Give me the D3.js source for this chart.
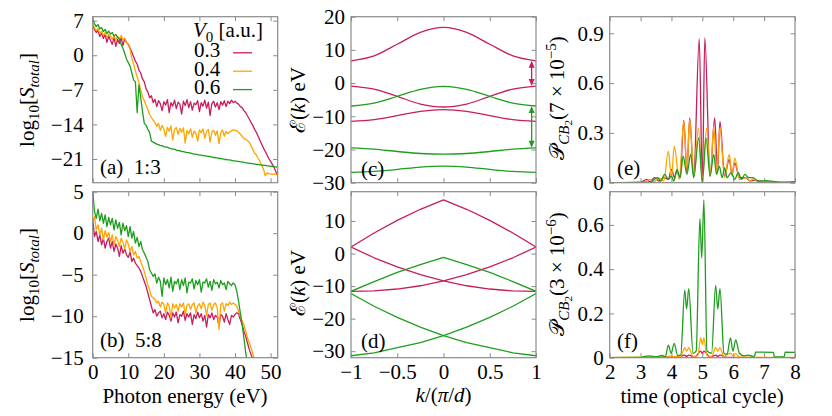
<!DOCTYPE html>
<html>
<head>
<meta charset="utf-8">
<script src="https://cdn.jsdelivr.net/npm/d3@7"></script>
<style>
  body { margin: 0; background: #fff; }
</style>
</head>
<body>
<div id="chart"></div>
<script>
// sample grid of the HHG spectra, photon energy in eV
const energy = d3.range(0, 52.01, 0.5);

// (a) lattice ratio 1:3, log10 of total spectrum
const specA03 = [
  6.0, 5.2, 4.6, 5.0, 3.8, 4.5, 3.4, 4.2, 2.6, 3.9,
  3.0, 2.2, 3.6, 1.8, 3.2, 2.4, 3.5, 2.0, 3.3, 2.6,
  2.2, 1.4, 0.6, -0.3, -1.2, -1.8, -3.0, -3.6, -4.8, -5.4,
  -6.8, -7.4, -8.6, -8.2, -9.6, -8.9, -10.4, -9.2, -9.8, -11.2,
  -9.4, -10.1, -9.0, -11.6, -9.6, -10.3, -9.1, -10.8, -9.5, -9.9,
  -11.9, -9.3, -10.2, -9.0, -10.6, -9.4, -11.1, -9.7, -10.0, -9.2,
  -11.4, -9.6, -10.3, -9.1, -10.7, -9.5, -12.2, -9.8, -9.3, -10.5,
  -9.6, -11.0, -9.4, -10.1, -9.2, -10.4, -9.3, -9.8, -9.1, -9.6,
  -9.3, -9.7, -9.9, -10.4, -10.6, -11.2, -11.6, -12.3, -12.9, -13.6,
  -14.2, -15.0, -15.6, -16.4, -17.2, -18.0, -18.8, -19.5, -20.2, -20.9,
  -21.5, -22.1, -22.7, -23.6, -24.2
];
const specA04 = [
  6.4, 5.6, 5.0, 5.4, 4.4, 4.9, 4.0, 4.6, 3.6, 4.3,
  3.9, 3.2, 4.1, 3.0, 3.8, 3.4, 4.0, 3.1, 3.5, 2.6,
  2.0, 1.2, -0.6, -1.8, -3.2, -4.4, -5.6, -7.0, -8.4, -9.2,
  -10.2, -11.0, -12.0, -12.6, -13.2, -13.6, -14.4, -13.8, -15.2, -14.2,
  -15.0, -16.4, -14.6, -15.4, -14.3, -17.2, -15.0, -14.6, -16.0, -14.8,
  -15.6, -14.7, -17.8, -15.2, -15.9, -14.9, -16.6, -15.3, -15.8, -17.4,
  -15.1, -15.7, -14.9, -16.8, -15.4, -15.0, -17.6, -15.5, -15.2, -16.2,
  -15.3, -17.9, -15.6, -15.1, -16.4, -15.4, -15.9, -15.5, -15.3, -15.1,
  -15.2, -15.3, -15.6, -16.0, -16.4, -16.9, -17.0, -17.3, -17.6, -18.3,
  -19.0, -19.8, -20.2, -20.9, -21.5, -22.3, -23.0, -24.4, -23.8, -24.0,
  -24.0, -24.1, -24.0, -24.1, -24.2
];
const specA06 = [
  7.2, 6.4, 5.8, 6.2, 5.3, 5.6, 4.8, 5.2, 4.4, 4.9,
  4.3, 4.6, 3.9, 4.2, 3.6, 3.2, 2.2, 1.4, 0.4, -0.8,
  -1.5, -2.2, -3.6, -5.0, -5.4, -11.6, -6.0, -8.6, -11.4, -13.8,
  -14.2, -15.0, -15.6, -17.4, -17.6, -17.8, -18.0, -18.1, -18.3, -18.3,
  -18.5, -18.6, -18.6, -18.8, -18.9, -19.0, -19.0, -19.2, -19.3, -19.3,
  -19.5, -19.5, -19.6, -19.7, -19.7, -19.8, -19.9, -20.0, -20.0, -20.1,
  -20.2, -20.2, -20.3, -20.3, -20.4, -20.5, -20.5, -20.6, -20.7, -20.7,
  -20.8, -20.9, -20.9, -21.0, -21.1, -21.1, -21.2, -21.2, -21.3, -21.4,
  -21.4, -21.5, -21.5, -21.6, -21.6, -21.7, -21.8, -21.8, -21.9, -21.9,
  -22.0, -22.0, -22.1, -22.1, -22.2, -22.2, -22.3, -22.3, -22.4, -22.4,
  -22.5, -22.5, -22.6, -22.6, -22.7
];

// (b) lattice ratio 5:8
const specB03 = [
  1.8, -0.4, 0.2, -1.0, -0.2, -1.4, -0.6, -1.8, -1.0, -0.6,
  -1.8, -1.0, -2.2, -1.3, -1.8, -2.8, -1.5, -2.4, -1.9, -2.6,
  -2.9, -2.3, -3.4, -3.0, -3.6, -3.9, -4.2, -4.6, -5.2, -5.8,
  -6.4, -7.2, -8.0, -8.8, -9.6, -9.2, -10.0, -9.6, -9.4, -10.2,
  -9.7, -10.4, -9.5, -9.9, -10.6, -9.6, -10.1, -9.5, -10.8, -9.8,
  -10.0, -9.4, -10.5, -9.7, -10.1, -9.6, -11.0, -9.8, -10.3, -9.5,
  -10.2, -9.7, -10.6, -9.9, -11.3, -9.8, -10.2, -9.6, -10.4, -9.9,
  -10.1, -11.2, -9.8, -10.0, -10.7, -9.7, -10.4, -11.0, -9.9, -10.1,
  -9.8, -9.6, -9.7, -10.4, -11.0, -11.8, -12.4, -13.2, -14.0, -14.6,
  -15.2, -16.0
];
const specB04 = [
  1.2, 2.0, 0.4, 1.0, -0.2, 0.6, -0.8, 0.3, -0.5, 0.1,
  -1.0, -0.2, -1.4, -0.4, -0.9, -1.6, -0.6, -1.1, -1.9, -0.8,
  -1.3, -2.2, -1.6, -2.6, -2.2, -3.0, -2.8, -3.4, -4.0, -4.6,
  -5.4, -6.2, -6.8, -7.6, -7.8, -8.0, -8.4, -8.2, -8.9, -8.3,
  -8.6, -9.6, -8.4, -8.8, -10.2, -8.5, -9.0, -8.6, -9.4, -8.5,
  -8.9, -8.4, -9.8, -8.7, -8.5, -9.2, -8.6, -8.4, -9.6, -8.8,
  -8.5, -9.1, -8.3, -8.7, -9.9, -8.6, -8.4, -9.3, -8.6, -8.4,
  -9.0, -11.6, -8.6, -8.4, -9.4, -8.5, -8.7, -8.3, -8.6, -8.4,
  -8.6, -8.8, -9.4, -10.0, -10.6, -11.0, -11.8, -12.6, -13.2, -13.8,
  -14.5, -15.2, -16.0
];
const specB06 = [
  5.0, 2.6, 1.8, 2.9, 1.5, 2.4, 1.2, 2.2, 0.8, 1.9,
  1.0, 1.8, 0.4, 1.6, 0.6, 1.3, -0.2, 1.2, 0.3, 0.9,
  -0.4, 0.8, -0.6, 0.2, -1.2, -0.5, -1.6, -1.0, -2.0, -2.4,
  -2.9, -3.4, -4.4, -4.8, -5.2, -4.9, -6.0, -5.3, -5.8, -7.6,
  -5.4, -6.2, -5.6, -6.6, -5.3, -7.0, -5.8, -6.1, -5.5, -6.8,
  -5.6, -6.3, -5.4, -7.2, -5.9, -6.0, -5.5, -6.7, -5.7, -6.2,
  -5.6, -7.1, -5.9, -6.0, -5.5, -6.5, -5.8, -6.9, -5.6, -6.1,
  -5.9, -6.6, -5.7, -6.2, -6.0, -6.8, -5.8, -6.1, -6.3, -6.0,
  -6.2, -7.0, -8.2, -9.6, -11.0, -12.6, -14.4, -15.6, -16.8, -18.0
];

// band structures, k in units of pi/d
const kGrid = [-1, -0.75, -0.5, -0.25, 0, 0.25, 0.5, 0.75, 1];
const bandsC03 = [
  [6.7, 8.2, 11.7, 15.3, 16.8, 15.3, 11.7, 8.2, 6.7],
  [-0.9, -1.8, -4.0, -6.3, -7.2, -6.3, -4.0, -1.8, -0.9],
  [-11.5, -11.0, -9.8, -8.5, -8.0, -8.5, -9.8, -11.0, -11.5]
];
const bandsC06 = [
  [-6.9, -6.0, -4.0, -1.9, -1.0, -1.9, -4.0, -6.0, -6.9],
  [-19.5, -19.9, -20.6, -21.2, -21.4, -21.2, -20.6, -19.9, -19.5],
  [-26.9, -26.6, -26.0, -25.3, -25.0, -25.3, -26.0, -26.6, -26.9]
];
const bandsD03 = [
  [2.0, 6.3, 10.2, 13.6, 16.5, 13.6, 10.2, 6.3, 2.0],
  [2.0, -1.3, -4.1, -6.5, -8.4, -9.9, -10.9, -11.5, -11.6],
  [-11.6, -11.5, -10.9, -9.9, -8.4, -6.5, -4.1, -1.3, 2.0]
];
const bandsD06 = [
  [-11.6, -8.6, -5.8, -3.4, -1.2, -3.4, -5.8, -8.6, -11.6],
  [-12.3, -16.2, -19.6, -22.6, -25.2, -27.4, -28.9, -30.5, -31.4],
  [-31.4, -30.5, -28.9, -27.4, -25.2, -22.6, -19.6, -16.2, -12.3]
];
// gap arrows in (c): k position, [upper, lower] energies
const arrowK = 0.953;
const gapC03 = [6.7, -0.9];
const gapC06 = [-6.9, -19.5];

// (e) CB2 population vs time (optical cycles)
const tE03 = [2, 3.0, 3.2, 3.3, 3.45, 3.6, 3.75, 3.9, 4.0, 4.1, 4.17, 4.28, 4.40, 4.50, 4.59, 4.72, 4.90, 5.0, 5.08, 5.25, 5.40, 5.49, 5.57, 5.72, 5.87, 5.96, 6.05, 6.2, 6.4, 6.55, 6.7, 7.0, 8];
const pE03 = [0, 0.002, 0.02, 0.005, 0.03, 0.01, 0.03, 0.02, 0.08, 0.03, 0.07, 0.03, 0.376, 0.06, 0.39, 0.04, 0.866, 0.0, 0.872, 0.04, 0.39, 0.06, 0.37, 0.04, 0.14, 0.05, 0.12, 0.03, 0.03, 0.01, 0.015, 0.005, 0];
const tE04 = [2, 3.1, 3.3, 3.45, 3.57, 3.75, 3.90, 4.0, 4.09, 4.25, 4.40, 4.50, 4.59, 4.73, 4.87, 5.0, 5.14, 5.26, 5.37, 5.47, 5.57, 5.72, 5.87, 5.96, 6.05, 6.2, 6.43, 6.55, 6.64, 6.8, 7.2, 8];
const pE04 = [0, 0.003, 0.02, 0.005, 0.03, 0.01, 0.19, 0.03, 0.22, 0.02, 0.37, 0.08, 0.38, 0.04, 0.33, 0.03, 0.33, 0.04, 0.34, 0.06, 0.33, 0.03, 0.17, 0.04, 0.15, 0.02, 0.03, 0.01, 0.025, 0.005, 0.003, 0];
const tE06 = [2, 3.3, 3.55, 3.65, 3.78, 3.9, 4.0, 4.08, 4.18, 4.28, 4.38, 4.50, 4.62, 4.72, 4.88, 5.0, 5.12, 5.25, 5.37, 5.46, 5.55, 5.64, 5.72, 5.8, 5.93, 6.05, 6.16, 6.27, 6.38, 6.5, 6.64, 6.8, 7.07, 7.5, 8];
const pE06 = [0, 0.003, 0.03, 0.01, 0.05, 0.02, 0.04, 0.01, 0.08, 0.03, 0.16, 0.05, 0.17, 0.03, 0.27, 0.0, 0.27, 0.04, 0.17, 0.05, 0.10, 0.03, 0.09, 0.03, 0.06, 0.02, 0.06, 0.02, 0.05, 0.03, 0.03, 0.01, 0.012, 0.003, 0.006];

// (f)
const tF03 = [2, 4.2, 4.43, 4.49, 4.56, 4.75, 4.95, 5.0, 5.05, 5.25, 5.43, 5.5, 5.57, 5.8, 8];
const pF03 = [0, 0.002, 0.012, 0.006, 0.012, 0.002, 0.03, 0.018, 0.03, 0.002, 0.012, 0.006, 0.012, 0.001, 0];
const tF04 = [2, 3.8, 4.0, 4.1, 4.3, 4.43, 4.49, 4.56, 4.7, 4.85, 4.95, 5.0, 5.05, 5.15, 5.3, 5.43, 5.5, 5.57, 5.7, 5.91, 6.0, 6.08, 6.2, 6.5, 8];
const pF04 = [0.001, 0.002, 0.008, 0.004, 0.006, 0.045, 0.03, 0.045, 0.006, 0.01, 0.09, 0.06, 0.09, 0.01, 0.006, 0.045, 0.03, 0.045, 0.006, 0.02, 0.008, 0.018, 0.003, 0.002, 0.001];
const tF06 = [2, 3.0, 3.1, 3.3, 3.5, 3.7, 3.80, 3.90, 3.99, 4.09, 4.2, 4.30, 4.43, 4.49, 4.56, 4.70, 4.80, 4.92, 4.98, 5.05, 5.15, 5.30, 5.43, 5.50, 5.57, 5.70, 5.80, 5.91, 5.99, 6.08, 6.2, 6.35, 6.5, 6.65, 6.70, 6.72, 7.3, 7.33, 7.65, 7.68, 8];
const pF06 = [0, 0.001, 0.005, 0.008, 0.004, 0.01, 0.004, 0.057, 0.02, 0.065, 0.01, 0.012, 0.305, 0.22, 0.312, 0.02, 0.03, 0.628, 0.45, 0.713, 0.03, 0.02, 0.327, 0.22, 0.312, 0.02, 0.015, 0.09, 0.03, 0.08, 0.02, 0.008, 0.012, 0.005, 0.01, 0.025, 0.024, 0.004, 0.004, 0.025, 0.024];

const amplitudes = ["0.3", "0.4", "0.6"];
const colours = { "0.3": "#c71d5c", "0.4": "#ffa500", "0.6": "#1e9e1e" };
const frame = "#8a8a8a";
const serif = "'Liberation Serif', 'Times New Roman', serif";
const fontSize = 21;
const tickLen = 4.5;

// panel boxes (pixels)
const cols = [{ x0: 92.7, x1: 277.7 }, { x0: 351, x1: 536 }, { x0: 609.7, x1: 795 }];
const rows = [{ y0: 16.7, y1: 182.7 }, { y0: 191.7, y1: 357.7 }];

const svg = d3.select("#chart").append("svg")
  .attr("width", 832)
  .attr("height", 416)
  .attr("font-family", serif);
const defs = svg.append("defs");
const fmt = d3.format("~g");

function makePanel(id, col, row, xDom, yDom, xTicks, yTicks, showX, yPad) {
  const c = cols[col], r = rows[row];
  const x = d3.scaleLinear().domain(xDom).range([c.x0, c.x1]);
  const y = d3.scaleLinear().domain(yDom).range([r.y1, r.y0]);
  const g = svg.append("g");

  defs.append("clipPath").attr("id", "clip-" + id)
    .append("rect")
    .attr("x", c.x0).attr("y", r.y0)
    .attr("width", c.x1 - c.x0).attr("height", r.y1 - r.y0);

  const axes = g.append("g");
  axes.append("g").attr("transform", `translate(0,${r.y1})`)
    .call(d3.axisBottom(x).tickValues(xTicks).tickSize(-tickLen).tickPadding(6.5)
      .tickFormat(showX ? fmt : () => ""));
  axes.append("g").attr("transform", `translate(0,${r.y0})`)
    .call(d3.axisTop(x).tickValues(xTicks).tickSize(-tickLen).tickFormat(() => ""));
  axes.append("g").attr("transform", `translate(${c.x0},0)`)
    .call(d3.axisLeft(y).tickValues(yTicks).tickSize(-tickLen).tickPadding(yPad).tickFormat(fmt));
  axes.append("g").attr("transform", `translate(${c.x1},0)`)
    .call(d3.axisRight(y).tickValues(yTicks).tickSize(-tickLen).tickFormat(() => ""));
  axes.selectAll("g")
    .attr("font-family", serif)
    .attr("font-size", fontSize);
  axes.selectAll(".domain").remove();
  axes.selectAll(".tick line").attr("stroke", frame).attr("stroke-width", 1);
  axes.selectAll(".tick text").attr("fill", "#000");

  const plot = g.append("g").attr("clip-path", `url(#clip-${id})`);

  g.append("rect")
    .attr("x", c.x0).attr("y", r.y0)
    .attr("width", c.x1 - c.x0).attr("height", r.y1 - r.y0)
    .attr("fill", "none").attr("stroke", frame).attr("stroke-width", 1.2);

  return { x, y, g, plot };
}

function drawLine(p, xs, ys, colour, curve) {
  const line = d3.line()
    .x((d) => p.x(d[0]))
    .y((d) => p.y(d[1]))
    .curve(curve || d3.curveLinear);
  p.plot.append("path")
    .datum(ys.map((v, i) => [xs[i], v]))
    .attr("d", line)
    .attr("fill", "none")
    .attr("stroke", colour)
    .attr("stroke-width", 1.3)
    .attr("stroke-linejoin", "round");
}

function label(x, y, parts, opts) {
  // parts: [text, {italic, size, dy}]
  const t = svg.append("text")
    .attr("font-size", fontSize)
    .attr("text-anchor", (opts && opts.anchor) || "start")
    .attr("transform", `translate(${x},${y})` + (opts && opts.rotate ? " rotate(-90)" : ""));
  parts.forEach(([s, o]) => {
    const ts = t.append("tspan").text(s);
    if (o && o.italic) ts.attr("font-style", "italic");
    if (o && o.size) ts.attr("font-size", o.size);
    if (o && o.dy) ts.attr("dy", o.dy);
  });
  return t;
}

// ---- panels ----
const pA = makePanel("a", 0, 0, [0, 52], [-25.8, 7.8], [0, 10, 20, 30, 40, 50], [7, 0, -7, -14, -21], false, 9);
const pB = makePanel("b", 0, 1, [0, 52], [-15, 5], [0, 10, 20, 30, 40, 50], [5, 0, -5, -10, -15], true, 9);
const pC = makePanel("c", 1, 0, [-1, 1], [-30, 20], [-1, -0.5, 0, 0.5, 1], [20, 10, 0, -10, -20, -30], false, 6);
const pD = makePanel("d", 1, 1, [-1, 1], [-32, 19], [-1, -0.5, 0, 0.5, 1], [10, 0, -10, -20, -30], true, 6);
const pE = makePanel("e", 2, 0, [2, 8], [0, 1], [2, 3, 4, 5, 6, 7, 8], [0, 0.3, 0.6, 0.9], false, 6);
const pF = makePanel("f", 2, 1, [2, 8], [0, 0.75], [2, 3, 4, 5, 6, 7, 8], [0, 0.2, 0.4, 0.6], true, 6);

// spectra
[[specA03, "0.3"], [specA04, "0.4"], [specA06, "0.6"]].forEach(([s, a]) =>
  drawLine(pA, energy, s, colours[a]));
[[specB03, "0.3"], [specB04, "0.4"], [specB06, "0.6"]].forEach(([s, a]) =>
  drawLine(pB, energy, s, colours[a]));

// bands
bandsC03.forEach((b) => drawLine(pC, kGrid, b, colours["0.3"], d3.curveMonotoneX));
bandsC06.forEach((b) => drawLine(pC, kGrid, b, colours["0.6"], d3.curveMonotoneX));
bandsD03.forEach((b) => drawLine(pD, kGrid, b, colours["0.3"]));
bandsD06.forEach((b) => drawLine(pD, kGrid, b, colours["0.6"]));

function gapArrow(p, k, gap, colour) {
  const xa = p.x(k), yTop = p.y(gap[0]), yBot = p.y(gap[1]);
  p.g.append("line")
    .attr("x1", xa).attr("x2", xa).attr("y1", yTop + 4).attr("y2", yBot - 4)
    .attr("stroke", colour).attr("stroke-width", 1.3);
  p.g.append("path")
    .attr("d", `M${xa},${yTop} l-3,7 l6,0 Z M${xa},${yBot} l-3,-7 l6,0 Z`)
    .attr("fill", colour);
}
gapArrow(pC, arrowK, gapC03, colours["0.3"]);
gapArrow(pC, arrowK, gapC06, colours["0.6"]);

// populations
drawLine(pE, tE03, pE03, colours["0.3"], d3.curveMonotoneX);
drawLine(pE, tE04, pE04, colours["0.4"], d3.curveMonotoneX);
drawLine(pE, tE06, pE06, colours["0.6"], d3.curveMonotoneX);
drawLine(pF, tF03, pF03, colours["0.3"], d3.curveMonotoneX);
drawLine(pF, tF04, pF04, colours["0.4"], d3.curveMonotoneX);
drawLine(pF, tF06, pF06, colours["0.6"], d3.curveMonotoneX);

// legend
label(193, 37, [["V", { italic: true }], ["0", { size: 15, dy: 5 }], [" [a.u.]", { dy: -5 }]]);
amplitudes.forEach((a, i) => {
  const yb = 57.3 + i * 18.4;
  label(194, yb, [[a]]);
  svg.append("line")
    .attr("x1", 233).attr("x2", 252)
    .attr("y1", yb - 4.5).attr("y2", yb - 4.5)
    .attr("stroke", colours[a]).attr("stroke-width", 1.3);
});

// panel tags
label(100, 174, [["(a)"], ["  1:3"]]).attr("xml:space", "preserve");
label(100, 347, [["(b)"], ["  5:8"]]).attr("xml:space", "preserve");
label(361, 176, [["(c)"]]);
label(361, 348, [["(d)"]]);
label(617, 175, [["(e)"]]);
label(617, 348, [["(f)"]]);

// axis titles
label(185, 403, [["Photon energy (eV)"]], { anchor: "middle" });
label(443.5, 402, [["k", { italic: true }], ["/("], ["π", { italic: true }], ["/"], ["d", { italic: true }], [")"]], { anchor: "middle" });
label(702, 403, [["time (optical cycle)"]], { anchor: "middle" });

const logParts = [["log"], ["10", { size: 15, dy: 5 }], ["[", { dy: -5 }], ["S", { italic: true }],
  ["total", { italic: true, size: 15, dy: 5 }], ["]", { dy: -5 }]];
label(34, 100, logParts, { anchor: "middle", rotate: true });
label(34, 275, logParts, { anchor: "middle", rotate: true });

const bandParts = [["ℰ("], ["k", { italic: true }], [") eV"]];
label(305, 100, bandParts, { anchor: "middle", rotate: true });
label(305, 283, bandParts, { anchor: "middle", rotate: true });

label(564, 98, [["𝒫"], ["CB", { italic: true, size: 15, dy: 5 }], ["2", { size: 11, dy: 3 }],
  ["(7 × 10", { dy: -8 }], ["−5", { size: 15, dy: -8 }], [")", { dy: 8 }]], { anchor: "middle", rotate: true });
label(564, 274, [["𝒫"], ["CB", { italic: true, size: 15, dy: 5 }], ["2", { size: 11, dy: 3 }],
  ["(3 × 10", { dy: -8 }], ["−6", { size: 15, dy: -8 }], [")", { dy: 8 }]], { anchor: "middle", rotate: true });
</script>
</body>
</html>
